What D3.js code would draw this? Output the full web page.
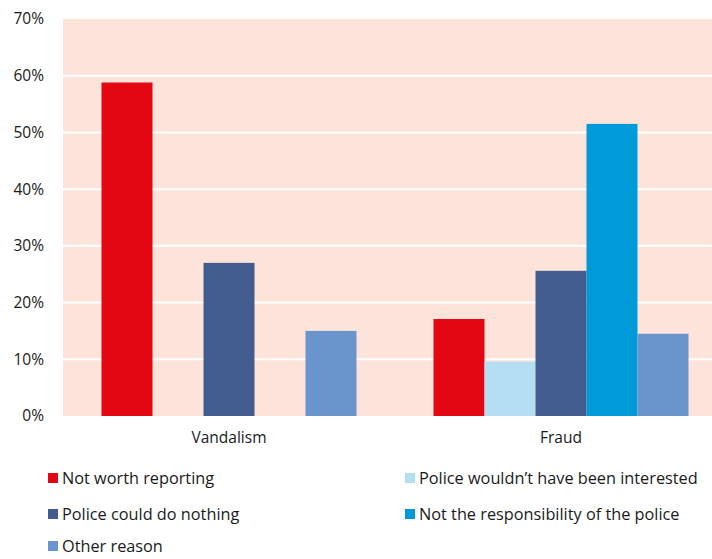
<!DOCTYPE html>
<html><head><meta charset="utf-8">
<script src="https://cdn.jsdelivr.net/npm/d3@7"></script>
<style>body{margin:0;background:#fff}svg{display:block}text{font-family:"Open Sans","Noto Sans",sans-serif;fill:#1a1a1a}</style>
</head><body><svg id="c" width="712" height="559"></svg>
<script>
const categories = ["Vandalism", "Fraud"];
const seriesNames = ["Not worth reporting", "Police wouldn\u2019t have been interested", "Police could do nothing", "Not the responsibility of the police", "Other reason"];
const notWorth = [58.8, 17.1];
const notInterested = [null, 9.6];
const couldDoNothing = [27.0, 25.6];
const notResponsibility = [null, 51.5];
const otherReason = [15.0, 14.5];
const seriesValues = [notWorth, notInterested, couldDoNothing, notResponsibility, otherReason];
const colors = ["#E30613", "#B5DEF2", "#425C8F", "#009AD8", "#6A94CC"];
const yTicks = [0, 10, 20, 30, 40, 50, 60, 70];

(function(){
const svg = d3.select("#c");
const pL = 63, pR = 727, pT = 19, pB = 416;
const x0 = d3.scaleBand().domain(categories).range([pL, pR]).paddingInner(0).paddingOuter(0);
const inner = d3.scaleBand().domain(seriesNames).range([0, x0.bandwidth()]).paddingInner(0).paddingOuter(0.755);
const y = d3.scaleLinear().domain([0, 70]).range([pB, pT]);

svg.append("rect").attr("x", pL).attr("y", pT).attr("width", pR - pL).attr("height", pB - pT).attr("fill", "#FDE3D9");

svg.append("g").selectAll("line").data(yTicks.slice(1, -1)).join("line")
  .attr("x1", pL).attr("x2", pR).attr("y1", d => y(d)).attr("y2", d => y(d))
  .attr("stroke", "#fff").attr("stroke-width", 2);

const g = svg.append("g");
seriesValues.forEach((vals, si) => {
  g.append("g").selectAll("rect").data(categories.map((c, i) => ({c, v: vals[i]})).filter(d => d.v != null)).join("rect")
    .attr("x", d => x0(d.c) + inner(seriesNames[si]))
    .attr("width", inner.bandwidth())
    .attr("y", d => y(d.v))
    .attr("height", d => y(0) - y(d.v))
    .attr("fill", colors[si]);
});

const yAxis = d3.axisLeft(y).tickValues(yTicks).tickFormat(d => d + "%").tickSize(0).tickPadding(19);
const ya = svg.append("g").attr("transform", `translate(${pL},0)`).call(yAxis);
ya.select(".domain").remove();
ya.selectAll("text").attr("font-size", 15.5).style("font-family", '"Open Sans","Noto Sans",sans-serif').attr("fill", "#1a1a1a");

const xAxis = d3.axisBottom(x0).tickSize(0).tickPadding(16);
const xa = svg.append("g").attr("transform", `translate(0,${pB})`).call(xAxis);
xa.select(".domain").remove();
xa.selectAll("text").attr("font-size", 15.5).style("font-family", '"Open Sans","Noto Sans",sans-serif').attr("fill", "#1a1a1a");

const legendPos = [[48, 478], [405, 478], [48, 514], [405, 514], [48, 546]];
const lg = svg.append("g");
seriesNames.forEach((n, i) => {
  const [lx, ly] = legendPos[i];
  lg.append("rect").attr("x", lx).attr("y", ly - 5).attr("width", 10).attr("height", 10).attr("fill", colors[i]);
  lg.append("text").attr("x", lx + 14).attr("y", ly).attr("dy", "0.35em").attr("font-size", 16.3).text(n);
});
})();
</script></body></html>
